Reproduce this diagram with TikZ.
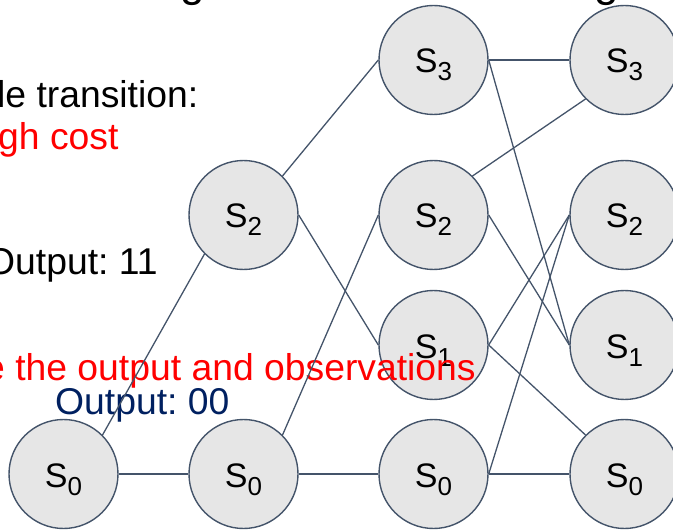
\documentclass[tikz,border=0pt]{standalone}
\usepackage{fontspec}
\setmainfont{Liberation Sans}
\frenchspacing
\definecolor{edgec}{HTML}{44546A}
\definecolor{fillc}{HTML}{E6E6E6}
\definecolor{navy}{HTML}{002060}
\newcommand{\stlab}[1]{\fontsize{34}{34}\selectfont S\raisebox{-8pt}{\fontsize{26}{26}\selectfont #1}}
\begin{document}
\begin{tikzpicture}[x=1pt,y=-1pt,
  state/.style={circle, draw=edgec, fill=fillc, line width=1.4pt, minimum size=109pt, inner sep=0pt, text height=30pt, text depth=4pt},
  conn/.style={draw=edgec, line width=1.3pt},
  txt/.style={anchor=base west, inner sep=0pt, font=\fontsize{37.3}{37.3}\selectfont},
  ttl/.style={anchor=base west, inner sep=0pt, font=\fontsize{44}{44}\selectfont}]
\useasboundingbox (0,0) rectangle (673,532);
\clip (0,0) rectangle (673,532);
% partially visible title glyphs
\node[ttl] (tg1) at (180,-3) {g};
\node[ttl] (tg2) at (594,-3) {g};
% states
\node[state] (a0) at (63.5,474) {\stlab{0}};
\node[state] (b2) at (243.5,215) {\stlab{2}};
\node[state] (b0) at (243.5,474) {\stlab{0}};
\node[state] (c3) at (433.5,60) {\stlab{3}};
\node[state] (c2) at (433.5,215) {\stlab{2}};
\node[state] (c1) at (433.5,345) {\stlab{1}};
\node[state] (c0) at (433.5,474) {\stlab{0}};
\node[state] (d3) at (624.5,60) {\stlab{3}};
\node[state] (d2) at (624.5,215) {\stlab{2}};
\node[state] (d1) at (624.5,345) {\stlab{1}};
\node[state] (d0) at (624.5,474) {\stlab{0}};
% texts
\node[txt] (t1) at (-3,108) {le transition:};
\node[txt, text=red] (t2) at (-2,150) {gh cost};
\node[txt] (t3) at (-14,275) {Output: 11};
\node[txt, text=red] (t4) at (-16,381) {e the output and observations};
\node[txt, text=navy] (t5) at (55,414) {Output: 00};
% connectors
\draw[conn] (a0.east) -- (b0.west);
\draw[conn] (a0.north east) -- (b2.south west);
\draw[conn] (b2.north east) -- (c3.west);
\draw[conn] (b2.east) -- (c1.west);
\draw[conn] (b0.east) -- (c0.west);
\draw[conn] (b0.north east) -- (c2.west);
\draw[conn] (c3.east) -- (d3.west);
\draw[conn] (c3.east) -- (d1.west);
\draw[conn] (c2.north east) -- (d3.south west);
\draw[conn] (c2.east) -- (d1.west);
\draw[conn] (c1.east) -- (d2.west);
\draw[conn] (c1.east) -- (d0.north west);
\draw[conn] (c0.east) -- (d0.west);
\draw[conn] (c0.east) -- (d2.west);
\end{tikzpicture}
\end{document}
